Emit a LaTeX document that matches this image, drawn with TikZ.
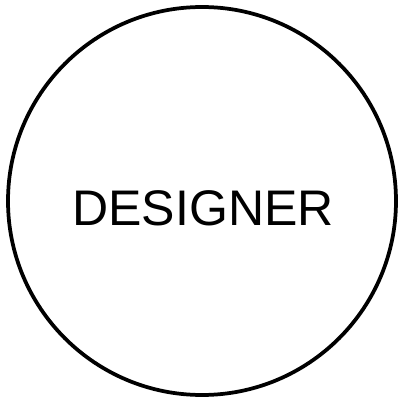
\documentclass[tikz,border=0pt]{standalone}
\usepackage{xcolor}
\usepackage{fontspec}
\setmainfont{Liberation Sans}
\usepackage{tikz}
\definecolor{DSLine}{HTML}{000000}

\begin{document}
\begin{tikzpicture}[x=1cm,y=1cm]
\path[use as bounding box] (0,0) rectangle (12.06,11.97);
\node[draw=DSLine,line width=3.2pt,circle,inner sep=0pt,minimum size=11.64cm] (designer) at (6.06,5.94) {};
\node[anchor=base,inner sep=0pt,font=\fontsize{42.7}{48}\selectfont] (designerlabel) at (6.09,5.22) {DESIGNER};
\end{tikzpicture}
\end{document}
